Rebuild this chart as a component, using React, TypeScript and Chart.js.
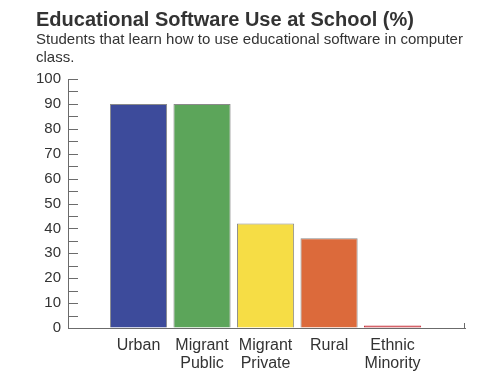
import React, { useEffect, useRef } from "react";
import { Chart, registerables } from "chart.js";

Chart.register(...registerables);

const categories: string[][] = [
  ["Urban"],
  ["Migrant", "Public"],
  ["Migrant", "Private"],
  ["Rural"],
  ["Ethnic", "Minority"],
];
const values: number[] = [90, 90, 42, 36, 1];
const barColors: string[] = ["#3d4b9b", "#5ca55a", "#f6dd45", "#dc6a3b", "#c8303a"];
const barBorders: string[] = ["#8a8a8a", "#8a8a8a", "#8a8a8a", "#8a8a8a", "#c8303a"];
const yTickValues: number[] = [0, 5, 10, 15, 20, 25, 30, 35, 40, 45, 50, 55, 60, 65, 70, 75, 80, 85, 90, 95, 100];
const titleText = "Educational Software Use at School (%)";
const subtitleLines: string[] = [
  "Students that learn how to use educational software in computer",
  "class.",
];

const axisColor = "#6b6b6b";
const textColor = "#333333";

const tickPlugin = {
  id: "insideTicks",
  afterDraw(chart: any) {
    const { ctx, chartArea, scales } = chart;
    const y = scales.y;
    ctx.save();
    ctx.strokeStyle = axisColor;
    ctx.lineWidth = 1;
    ctx.beginPath();
    for (const v of yTickValues) {
      const py = Math.round(y.getPixelForValue(v)) + 0.5;
      ctx.moveTo(chartArea.left, py);
      ctx.lineTo(chartArea.left + 10, py);
    }
    const rx = Math.round(chartArea.right) - 0.5;
    ctx.moveTo(rx, chartArea.bottom);
    ctx.lineTo(rx, chartArea.bottom - 5);
    ctx.stroke();
    ctx.restore();
  },
};

export default function App() {
  const ref = useRef<HTMLCanvasElement | null>(null);
  useEffect(() => {
    if (!ref.current) return;
    const chart = new Chart(ref.current, {
      type: "bar",
      data: {
        datasets: [
          {
            data: values.map((v, i) => ({ x: i, y: v })),
            backgroundColor: barColors,
            borderColor: barBorders,
            borderWidth: 1,
            barPercentage: 0.9,
            categoryPercentage: 1,
          },
        ],
      },
      plugins: [tickPlugin],
      options: {
        animation: false,
        responsive: true,
        maintainAspectRatio: false,
        layout: { padding: { left: 28, right: 27, top: 0, bottom: 0 } },
        plugins: {
          legend: { display: false },
          tooltip: { enabled: false },
          title: {
            display: true,
            text: titleText,
            align: "start",
            color: textColor,
            font: { family: "Liberation Sans, Arial, sans-serif", size: 20, weight: "bold", lineHeight: 1.0 },
            padding: { top: 2, bottom: 1 },
          },
          subtitle: {
            display: true,
            text: subtitleLines,
            align: "start",
            color: textColor,
            font: { family: "Liberation Sans, Arial, sans-serif", size: 15, lineHeight: 1.2 },
            padding: { top: 0, bottom: 12 },
          },
        },
        scales: {
          x: {
            type: "linear",
            offset: false,
            min: -1.11,
            max: 5.14,
            afterBuildTicks: (scale: any) => {
              scale.ticks = categories.map((_, i) => ({ value: i }));
            },
            afterFit: (scale: any) => {
              scale.height = 50;
            },
            ticks: {
              autoSkip: false,
              maxRotation: 0,
              minRotation: 0,
              padding: 8,
              color: textColor,
              font: { family: "Liberation Sans, Arial, sans-serif", size: 16, lineHeight: 1.15 },
              callback: (v: any) => categories[Math.round(Number(v))] ?? "",
            },
            grid: { display: true, offset: false, drawOnChartArea: false, drawTicks: false },
            border: { display: true, color: axisColor, width: 1 },
          },
          y: {
            min: 0,
            max: 100,
            afterFit: (scale: any) => {
              scale.width = 32;
            },
            ticks: {
              stepSize: 10,
              padding: 7,
              color: textColor,
              font: { family: "Liberation Sans, Arial, sans-serif", size: 15 },
            },
            grid: { display: true, drawOnChartArea: false, drawTicks: false },
            border: { display: true, color: axisColor, width: 1 },
          },
        },
      },
    } as any);
    return () => chart.destroy();
  }, []);
  return (
    <div style={{ width: 484, height: 370, position: "relative" }}>
      <canvas ref={ref} />
    </div>
  );
}
